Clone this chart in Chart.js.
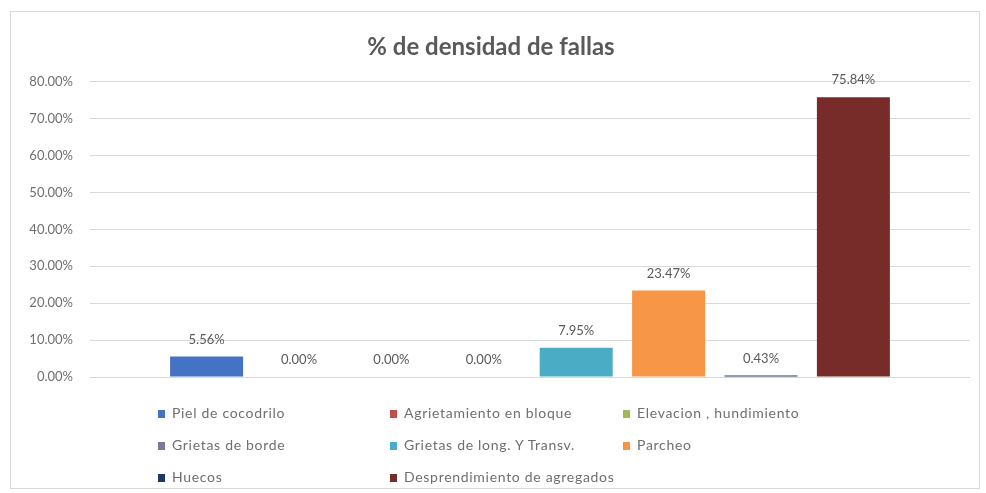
<!DOCTYPE html>
<html>
<head>
<meta charset="utf-8">
<script src="https://cdn.jsdelivr.net/npm/chart.js@4"></script>
<style>
  html, body { margin: 0; padding: 0; background: #fff; }
  #wrap { position: relative; width: 986px; height: 493px; overflow: hidden; }
  #frame { position: absolute; left: 10px; top: 11px; width: 970px; height: 478px; border: 1px solid #d9d9d9; box-sizing: border-box; }
  #grafico { position: absolute; left: 0; top: 0; }
  #leyenda { position: absolute; left: 158px; top: 404px; display: grid; grid-template-columns: 232px 233px 240px; row-gap: 14px;
    font-family: Lato, "Open Sans", sans-serif; font-size: 14px; letter-spacing: 0.7px; color: #6f6f6f; }
  #leyenda div { height: 18px; line-height: 18px; white-space: nowrap; }
  #leyenda span { display: inline-block; width: 7px; height: 8px; margin-right: 7px; vertical-align: 0px; }
</style>
</head>
<body>
<div id="wrap">
  <div id="frame"></div>
  <canvas id="grafico" width="986" height="493"></canvas>
  <div id="leyenda"></div>
</div>
<script>
var fallas = [
    'Piel de cocodrilo',
    'Agrietamiento en bloque',
    'Elevacion , hundimiento',
    'Grietas de borde',
    'Grietas de long. Y Transv.',
    'Parcheo',
    'Huecos',
    'Desprendimiento de agregados'
];
var densidad = [5.56, 0.00, 0.00, 0.00, 7.95, 23.47, 0.43, 75.84];
var colores = ['#4472c4', '#c0504d', '#9bbb59', '#7f7a94', '#4bacc6', '#f79646', '#1f3864', '#772c2a'];
var ticksY = [0, 10, 20, 30, 40, 50, 60, 70, 80];

// etiquetas de valor encima de cada barra
var etiquetas = {
    id: 'etiquetas',
    afterDatasetsDraw: function (chart) {
        var ctx = chart.ctx;
        ctx.save();
        ctx.font = '13px Lato, "Open Sans", sans-serif';
        ctx.fillStyle = '#595959';
        ctx.textAlign = 'center';
        ctx.textBaseline = 'middle';
        chart.data.datasets.forEach(function (ds, i) {
            var bar = chart.getDatasetMeta(i).data[0];
            ctx.fillText(ds.data[0].toFixed(2) + '%', bar.x, bar.y - 17);
        });
        ctx.restore();
    }
};

var ctx = document.getElementById('grafico').getContext('2d');
var grafico = new Chart(ctx, {
    type: 'bar',
    data: {
        labels: [''],
        datasets: fallas.map(function (nombre, i) {
            return {
                label: nombre,
                data: [densidad[i]],
                backgroundColor: colores[i]
            };
        })
    },
    options: {
        responsive: false,
        animation: false,
        categoryPercentage: 0.84,
        barPercentage: 0.79,
        layout: {
            padding: { left: 12, right: 16, top: 33, bottom: 116 }
        },
        scales: {
            x: { display: false },
            y: {
                min: 0,
                max: 80,
                afterBuildTicks: function (axis) {
                    axis.ticks = ticksY.map(function (v) { return { value: v }; });
                },
                afterFit: function (axis) {
                    axis.width = 78;
                },
                border: { display: false },
                grid: { color: '#d9d9d9', drawTicks: false },
                ticks: {
                    padding: 17,
                    color: '#6f6f6f',
                    font: { family: 'Lato, "Open Sans", sans-serif', size: 13 },
                    callback: function (v) { return v.toFixed(2) + '%'; }
                }
            }
        },
        plugins: {
            title: {
                display: true,
                text: '% de densidad de fallas',
                color: '#595959',
                font: { family: 'Lato, "Open Sans", sans-serif', size: 24, weight: 'bold' },
                padding: { top: 0, bottom: 20 }
            },
            legend: { display: false },
            tooltip: { enabled: false }
        }
    },
    plugins: [etiquetas]
});

// leyenda en tres columnas
var leyenda = document.getElementById('leyenda');
fallas.forEach(function (nombre, i) {
    var item = document.createElement('div');
    var cuadro = document.createElement('span');
    cuadro.style.background = colores[i];
    item.appendChild(cuadro);
    item.appendChild(document.createTextNode(nombre));
    leyenda.appendChild(item);
});
</script>
</body>
</html>
